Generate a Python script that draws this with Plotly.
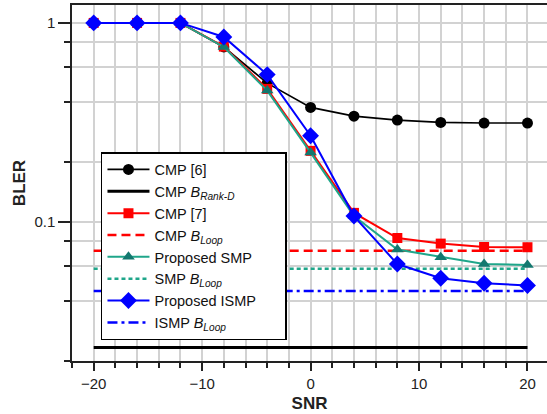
import plotly.graph_objects as go

snr = [-20, -16, -12, -8, -4, 0, 4, 8, 12, 16, 20]
cmp6 = [1.0, 1.0, 1.0, 0.757, 0.498, 0.376, 0.34, 0.325, 0.316, 0.314, 0.314]
cmp7 = [1.0, 1.0, 1.0, 0.76, 0.466, 0.2275, 0.111, 0.083, 0.0778, 0.0748, 0.0746]
smp = [1.0, 1.0, 1.0, 0.757, 0.457, 0.223, 0.107, 0.0726, 0.0665, 0.0614, 0.0608]
ismp = [1.0, 1.0, 1.0, 0.85, 0.55, 0.271, 0.107, 0.0614, 0.0521, 0.0492, 0.0479]

bound_x = [-20, 20]
b_rank_d = 0.0234
b_loop_cmp = 0.0716
b_loop_smp = 0.0582
b_loop_ismp = 0.045

x_tick_vals = [-20, -10, 0, 10, 20]
x_tick_text = ["\u221220", "\u221210", "0", "10", "20"]
y_tick_vals = [1, 0.1]
y_tick_text = ["1", "0.1"]
y_minor_vals = [0.8, 0.6, 0.4, 0.2, 0.08, 0.06, 0.04, 0.02]

FONT = "Liberation Sans, Arial, sans-serif"
GREEN = "#1fa68a"
GREEN_M = "#13786f"
PAD = "\u00a0" * 6  # keeps the legend box as wide as the reference

fig = go.Figure()

fig.add_trace(go.Scatter(x=snr, y=cmp6, name="CMP [6]", mode="lines+markers",
                         line=dict(color="black", width=1.7),
                         marker=dict(symbol="circle", size=11, color="black")))
fig.add_trace(go.Scatter(x=bound_x, y=[b_rank_d] * 2,
                         name="CMP <i>B</i><sub><i>Rank-D</i></sub>", mode="lines",
                         line=dict(color="black", width=3)))
fig.add_trace(go.Scatter(x=snr, y=cmp7, name="CMP [7]", mode="lines+markers",
                         line=dict(color="#ff0000", width=2),
                         marker=dict(symbol="square", size=10, color="#ff0000")))
fig.add_trace(go.Scatter(x=bound_x, y=[b_loop_cmp] * 2,
                         name="CMP <i>B</i><sub><i>Loop</i></sub>", mode="lines",
                         line=dict(color="#ff0000", width=2.5, dash="9px,5px")))
fig.add_trace(go.Scatter(x=snr, y=smp, name="Proposed SMP", mode="lines+markers",
                         line=dict(color=GREEN, width=2),
                         marker=dict(symbol="triangle-up", size=11, color=GREEN_M)))
fig.add_trace(go.Scatter(x=bound_x, y=[b_loop_smp] * 2,
                         name="SMP <i>B</i><sub><i>Loop</i></sub>", mode="lines",
                         line=dict(color=GREEN, width=2.5, dash="4px,3px")))
fig.add_trace(go.Scatter(x=snr, y=ismp, name="Proposed ISMP" + PAD, mode="lines+markers",
                         line=dict(color="#0000ff", width=2),
                         marker=dict(symbol="diamond", size=13, color="#0000ff")))
fig.add_trace(go.Scatter(x=bound_x, y=[b_loop_ismp] * 2,
                         name="ISMP <i>B</i><sub><i>Loop</i></sub>", mode="lines",
                         line=dict(color="#0000ff", width=2.5, dash="10px,4px,3px,4px")))

GRID = "#d2d2d2"

fig.update_layout(
    width=547, height=414,
    margin=dict(l=72, r=0, t=5, b=53),
    paper_bgcolor="white", plot_bgcolor="white",
    font=dict(family=FONT, size=15, color="#222222"),
    showlegend=True,
    legend=dict(x=0.061, y=0.587, xanchor="left", yanchor="top",
                bgcolor="white", bordercolor="black", borderwidth=1.5,
                font=dict(family=FONT, size=14.5, color="#111111"),
                itemwidth=42, tracegroupgap=0),
    xaxis=dict(
        range=[-22, 21.8], showline=True, linecolor="#222222", linewidth=1.5,
        mirror=True, ticks="outside", ticklen=8, tickcolor="#222222", tickwidth=1.5,
        tickmode="array", tickvals=x_tick_vals, ticktext=x_tick_text,
        showgrid=True, gridcolor=GRID, gridwidth=1.5, zeroline=False,
        minor=dict(dtick=2, tick0=0, ticks="outside", ticklen=5, tickcolor="#222222",
                   tickwidth=1.5, showgrid=True, gridcolor=GRID, gridwidth=1.5),
        title=dict(text="<b>SNR</b>", font=dict(family=FONT, size=17, color="#222222"),
                   standoff=6),
    ),
    yaxis=dict(
        type="log", range=[-1.699, 0.09], showline=True, linecolor="#222222",
        linewidth=1.5, mirror=False, ticks="outside", ticklen=12, tickcolor="#222222",
        tickwidth=1.5, tickmode="array", tickvals=y_tick_vals, ticktext=y_tick_text,
        showgrid=True, gridcolor=GRID, gridwidth=1.5, zeroline=False,
        minor=dict(tickmode="array", tickvals=y_minor_vals, ticks="outside", ticklen=6,
                   tickcolor="#222222", tickwidth=1.5, showgrid=True, gridcolor=GRID,
                   gridwidth=1.5),
        title=dict(text="<b>BLER</b>", font=dict(family=FONT, size=17, color="#222222"),
                   standoff=4),
    ),
)

fig.write_html(
    "out.html",
    config={"displayModeBar": False},
    post_script="document.body.style.margin='0';document.body.style.overflow='hidden';",
)
